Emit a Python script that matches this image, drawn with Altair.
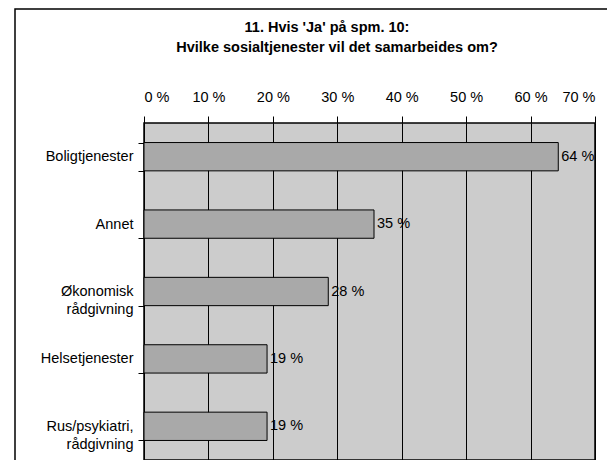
import altair as alt
import pandas as pd

categories = ["Boligtjenester", "Annet", "Økonomisk\nrådgivning", "Helsetjenester", "Rus/psykiatri,\nrådgivning"]
values = [64.3, 35.7, 28.6, 19.1, 19.1]
labels = ["64 %", "35 %", "28 %", "19 %", "19 %"]
x_ticks = [0, 10, 20, 30, 40, 50, 60, 70]
title_lines = ["11. Hvis 'Ja' på spm. 10:", "Hvilke sosialtjenester vil det samarbeides om?"]

df = pd.DataFrame({"cat": categories, "val": values, "lab": labels})

FONT = "Liberation Sans"
FS = 14.5

y_enc = alt.Y(
    "cat:N",
    sort=None,
    title=None,
    scale=alt.Scale(paddingInner=0.58, paddingOuter=0.29),
    axis=alt.Axis(
        tickBand="extent",
        tickSize=6,
        tickColor="black",
        domainColor="black",
        labelPadding=5,
        labelFontSize=FS,
        labelFont=FONT,
        labelColor="black",
        labelLineHeight=18,
        labelExpr="split(datum.label, '\\n')",
        grid=False,
    ),
)

x_enc = alt.X(
    "val:Q",
    title=None,
    scale=alt.Scale(domain=[0, 70], nice=False),
    axis=alt.Axis(
        orient="top",
        values=x_ticks,
        labelExpr="datum.value + ' %'",
        tickSize=7,
        tickColor="black",
        domain=False,
        labelPadding=12,
        labelFontSize=FS,
        labelFont=FONT,
        labelColor="black",
        grid=True,
        gridColor="black",
        gridWidth=1,
        gridOpacity=1,
    ),
)

bars = alt.Chart(df).mark_bar(fill="#a9a9a9", stroke="black", strokeWidth=1).encode(
    x=x_enc, y=y_enc
)

text = alt.Chart(df).mark_text(
    align="left", baseline="middle", dx=3, fontSize=FS, font=FONT, color="black"
).encode(x="val:Q", y=alt.Y("cat:N", sort=None), text="lab:N")

frame = alt.Chart(pd.DataFrame({"a": [0]})).mark_rect(
    fill=None, stroke="black", strokeWidth=1.5
).encode(
    x=alt.value(-129), x2=alt.value(600), y=alt.value(-114), y2=alt.value(500)
)

title1 = alt.Chart(pd.DataFrame({"t": [title_lines[0]]})).mark_text(
    align="center", baseline="middle", fontSize=FS, font=FONT, fontWeight="bold", color="black"
).encode(x=alt.value(183), y=alt.value(-95), text="t:N")

title2 = alt.Chart(pd.DataFrame({"t": [title_lines[1]]})).mark_text(
    align="center", baseline="middle", fontSize=FS, font=FONT, fontWeight="bold", color="black"
).encode(x=alt.value(193), y=alt.value(-75), text="t:N")

chart = alt.layer(bars, text, frame, title1, title2).properties(
    width=451,
    height=337,
    autosize=alt.AutoSizeParams(type="none"),
    padding={"left": 136, "top": 115, "right": 12, "bottom": 0},
).configure(background="white").configure_view(fill="#cccccc", stroke="black", strokeWidth=1.5)

chart.save("out.html", embed_options={"renderer": "svg", "actions": False})
